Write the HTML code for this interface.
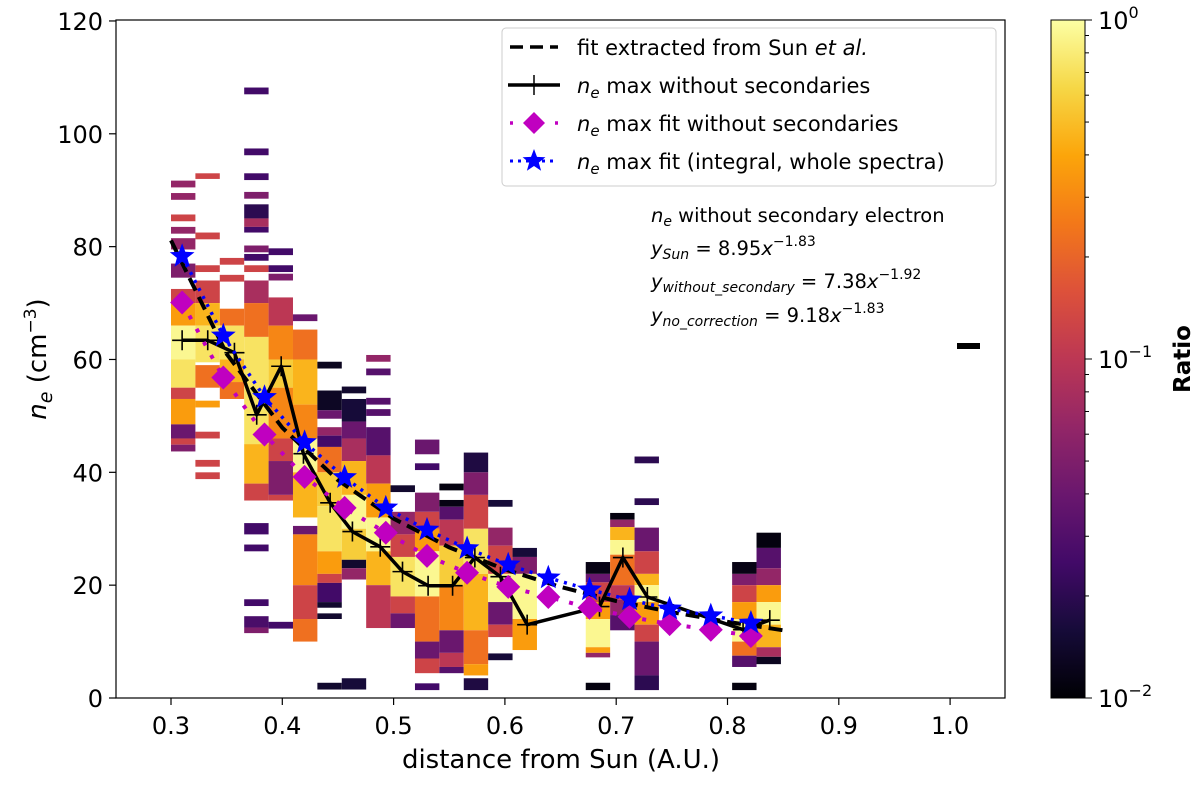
<!DOCTYPE html>
<html><head><meta charset="utf-8"><style>
body{margin:0;background:#fff;}
svg{font-family:"DejaVu Sans","Liberation Sans",sans-serif;}
</style></head><body>
<svg id="chart" width="1200" height="780" viewBox="0 0 1200 780" xmlns="http://www.w3.org/2000/svg">
<defs>
<linearGradient id="cbar" x1="0" y1="1" x2="0" y2="0">
<stop offset="0" stop-color="#000004"/><stop offset="0.1" stop-color="#160b39"/><stop offset="0.2" stop-color="#420a68"/><stop offset="0.3" stop-color="#6a176e"/><stop offset="0.4" stop-color="#932667"/><stop offset="0.5" stop-color="#bc3754"/><stop offset="0.6" stop-color="#dd513a"/><stop offset="0.7" stop-color="#f37819"/><stop offset="0.8" stop-color="#fca50a"/><stop offset="0.9" stop-color="#f6d746"/><stop offset="1" stop-color="#fcffa4"/>
</linearGradient>
<clipPath id="plotclip"><rect x="116" y="20" width="889" height="678"/></clipPath>
</defs>
<g id="heat" clip-path="url(#plotclip)"></g>
<g id="lines" clip-path="url(#plotclip)"></g>
<g id="axes"></g>
<rect x="116" y="20" width="889" height="678" fill="none" stroke="#000" stroke-width="1.2"/>
<g>
<rect x="502" y="28" width="494" height="158" rx="4" fill="#fff" fill-opacity="0.85" stroke="#ccc"/>
<line x1="510" y1="47" x2="558" y2="47" stroke="#000" stroke-width="3.5" stroke-dasharray="13,7"/>
<text x="577" y="55" font-size="21">fit extracted from Sun <tspan font-style="italic">et al.</tspan></text>
<line x1="508" y1="85" x2="560" y2="85" stroke="#000" stroke-width="3.5"/>
<path d="M534 75V95" stroke="#000" stroke-width="1.5"/>
<text x="577" y="93" font-size="21"><tspan font-style="italic">n</tspan><tspan font-style="italic" font-size="15" dy="5">e</tspan><tspan dy="-5"> max without secondaries</tspan></text>
<line x1="510" y1="123" x2="558" y2="123" stroke="#c000c0" stroke-width="3.5" stroke-dasharray="3,12"/>
<path d="M534 112L545 123L534 134L523 123Z" fill="#c000c0"/>
<text x="577" y="131" font-size="21"><tspan font-style="italic">n</tspan><tspan font-style="italic" font-size="15" dy="5">e</tspan><tspan dy="-5"> max fit without secondaries</tspan></text>
<line x1="510" y1="161" x2="558" y2="161" stroke="#0000ff" stroke-width="3" stroke-dasharray="3,5"/>
<path id="legstar" fill="#0000ff"/>
<text x="577" y="169" font-size="21"><tspan font-style="italic">n</tspan><tspan font-style="italic" font-size="15" dy="5">e</tspan><tspan dy="-5"> max fit (integral, whole spectra)</tspan></text>
</g>
<g font-size="19.5">
<text x="651" y="222"><tspan font-style="italic">n</tspan><tspan font-style="italic" font-size="14" dy="4">e</tspan><tspan dy="-4"> without secondary electron</tspan></text>
<text x="651" y="255"><tspan font-style="italic">y</tspan><tspan font-style="italic" font-size="14" dy="4">Sun</tspan><tspan dy="-4"> = 8.95</tspan><tspan font-style="italic">x</tspan><tspan font-size="14" dy="-9">−1.83</tspan></text>
<text x="651" y="288"><tspan font-style="italic">y</tspan><tspan font-style="italic" font-size="14" dy="4">without_secondary</tspan><tspan dy="-4"> = 7.38</tspan><tspan font-style="italic">x</tspan><tspan font-size="14" dy="-9">−1.92</tspan></text>
<text x="651" y="322"><tspan font-style="italic">y</tspan><tspan font-style="italic" font-size="14" dy="4">no_correction</tspan><tspan dy="-4"> = 9.18</tspan><tspan font-style="italic">x</tspan><tspan font-size="14" dy="-9">−1.83</tspan></text>
</g>
<rect x="1051" y="20" width="34" height="678" fill="url(#cbar)" stroke="#000" stroke-width="1"/>
<g id="cbticks"></g>
<text transform="translate(1190,359) rotate(-90)" text-anchor="middle" font-size="23" font-weight="bold">Ratio</text>
<text x="561" y="768" text-anchor="middle" font-size="26">distance from Sun (A.U.)</text>
<text transform="translate(46,359) rotate(-90)" text-anchor="middle" font-size="26"><tspan font-style="italic">n</tspan><tspan font-style="italic" font-size="19" dy="6">e</tspan><tspan dy="-6"> (cm</tspan><tspan font-size="17" dy="-10">−3</tspan><tspan dy="10">)</tspan></text>
</svg>
<script>
const xTicks=[0.3,0.4,0.5,0.6,0.7,0.8,0.9,1.0];
const yTicks=[0,20,40,60,80,100,120];
const colIndex=[0,1,2,3,4,5,6,7,8,9,10,11,12,13,14,17,18,19,23,24];
const colRuns=[
[[90.5,91.7,.4],[88.3,89.5,.4],[84.5,85.7,.55],[82.3,83.5,.4],[79.5,81.5,.4],[74.5,77,.35],[70,72.5,.55],[66,70,.7],[60,66,.9],[55,60,.85],[53,55,.55],[48.5,53,.7],[46,48.5,.3],[44.9,46,.55],[43.7,44.9,.35]],
[[92,93,.55],[81.3,82.5,.55],[75.5,76.7,.55],[70,74,.55],[66,70,.75],[59.5,66,.85],[55,59,.6],[51.5,52.7,.7],[46,47.2,.55],[41,42.2,.55],[38.8,40,.55]],
[[76.8,78,.55],[73.8,75,.55],[66,69,.6],[60,66,.85],[56,60,.75],[53,56,.6]],
[[107,108.2,.2],[96.2,97.4,.2],[91.8,93,.2],[88.5,89.7,.35],[85,87.5,.15],[83.5,85,.45],[82.5,83.5,.2],[79,80.2,.35],[77.5,78.7,.2],[75.5,76.7,.55],[70,74,.45],[64,70,.6],[45,64,.85],[38,45,.75],[35,38,.55],[29,31,.2],[26,27.2,.2],[16.3,17.5,.2],[12.5,14.5,.22],[11.5,12.5,.35]],
[[78.5,79.7,.2],[75.5,76.7,.2],[74,75.2,.35],[66,71,.5],[60,66,.65],[55,60,.8],[46,55,.65],[42,46,.55],[36,42,.35],[35,36,.55],[12.3,13.5,.2]],
[[66.8,68,.3],[60,65.3,.6],[52,60,.75],[46,52,.65],[40,46,.9],[32,40,.75],[29,30.5,.3],[20,29,.65],[14,20,.55],[10,14,.6]],
[[58.4,59.6,.05],[51,54.5,.06],[49.5,51,.3],[46.5,48,.4],[44.5,46.5,.2],[40,44.5,.6],[34,40,.8],[26,34,.85],[22,26,.7],[20.4,22,.55],[17,20.4,.2],[16,17,.08],[14,15,.08],[1.5,2.7,.08]],
[[54,55.2,.08],[49,53,.1],[46,49,.3],[42,46,.45],[36,42,.75],[30,36,.9],[24.5,30,.8],[23,24.5,.08],[21,23,.4],[1.5,3.5,.1]],
[[59.6,60.8,.4],[57.2,58.4,.25],[52,53.2,.25],[50,51.2,.25],[43,48,.25],[38,43,.5],[32,38,.7],[26,32,.9],[20,26,.75],[12.4,20,.5]],
[[36.5,37.7,.08],[29,33,.4],[25,29,.55],[18,25,.85],[15,18,.55],[12.4,15,.3]],
[[43.2,45.8,.3],[40.4,41.6,.2],[33,36.4,.35],[30,33,.55],[26,30,.7],[18,26,.9],[10,18,.6],[7,10,.3],[4.4,7,.55],[1.4,2.6,.2]],
[[36.8,38,.02],[33.9,35.1,.03],[31.6,33.9,.25],[27,31.6,.5],[20,27,.8],[12,20,.65],[8,12,.3],[5.5,8,.5],[4.4,5.5,.25]],
[[40,43.5,.12],[36,40,.35],[30,36,.55],[22,30,.85],[12,22,.75],[6,12,.6],[4,6,.7],[1.4,3.5,.12]],
[[33.9,35.1,.1],[27,30.2,.4],[22,27,.55],[17,22,.9],[13,17,.3],[10.8,13,.55],[6.7,7.9,.1]],
[[25,26.6,.1],[22,25,.35],[14,22,.9],[8.5,14,.7]],
[[22,24.1,.03],[20.5,22,.3],[17,20.5,.55],[14,17,.7],[9,14,.9],[8,9,.7],[7.2,8,.4],[1.4,2.7,.02]],
[[31.6,32.8,.02],[30.3,31.6,.4],[28,30.3,.75],[25.4,28,.9],[20,25.4,.6],[17.4,20,.5],[14.7,17.4,.4],[12,14.7,.25]],
[[41.6,42.8,.15],[34.2,35.4,.15],[26,30.2,.3],[22,26,.55],[20,22,.75],[17,20,.9],[13,17,.7],[10,13,.55],[4,10,.3],[1.4,4,.15]],
[[22,24.1,.03],[20,22,.35],[17,20,.55],[14,17,.7],[10,14,.9],[7.5,10,.6],[5.5,7.5,.25],[1.4,2.7,.02]],
[[26.6,29.3,.02],[23,26.6,.25],[20,23,.4],[17,20,.7],[13,17,.9],[9,13,.75],[7.3,9,.45],[6,7.3,.05]]
];
const sunX=[0.30,0.35,0.40,0.45,0.50,0.55,0.60,0.65,0.70,0.75,0.80,0.85];
const sunY=[81.1,61.0,47.9,38.6,31.8,26.7,22.8,19.7,17.2,15.2,13.5,12.0];
const maxX=[0.310,0.333,0.357,0.377,0.399,0.419,0.443,0.463,0.488,0.508,0.531,0.553,0.573,0.596,0.620,0.685,0.706,0.728,0.814,0.838];
const maxY=[63.4,63.4,61.2,50.2,58.8,43.3,34.6,29.5,26.8,22.4,19.9,19.9,24.9,21.5,13.0,16.2,24.9,17.9,12.1,13.8];
const fitX=[0.310,0.347,0.384,0.420,0.456,0.493,0.530,0.566,0.603,0.639,0.676,0.712,0.748,0.785,0.821];
const fitY=[70.1,56.8,46.7,39.2,33.7,29.3,25.2,22.2,19.7,17.9,16.0,14.4,13.1,12.1,11.0];
const intY=[78.3,64.2,53.3,45.3,39.1,33.7,29.8,26.5,23.6,21.3,19.2,17.4,15.8,14.6,13.3];

const NS="http://www.w3.org/2000/svg";
const X=v=>171+(v-0.3)*1113;
const Y=v=>698-v*5.642;
const colW=0.02192;
const stops=[[0,0,0,4],[.1,22,11,57],[.2,66,10,104],[.3,106,23,110],[.4,147,38,103],[.5,188,55,84],[.6,221,81,58],[.7,243,120,25],[.8,252,165,10],[.9,246,215,70],[1,252,255,164]];
function cmap(t){if(t>=0.6)t=Math.min(1,t+0.08);for(let i=1;i<stops.length;i++){if(t<=stops[i][0]){const a=stops[i-1],b=stops[i],f=(t-a[0])/(b[0]-a[0]);return `rgb(${[1,2,3].map(k=>Math.round(a[k]+(b[k]-a[k])*f)).join(',')})`;}}return 'rgb(252,255,164)';}
function mk(tag,attrs,parent){const e=document.createElementNS(NS,tag);for(const k in attrs)e.setAttribute(k,attrs[k]);parent.appendChild(e);return e;}
const heat=document.getElementById('heat');
colRuns.forEach((runs,ci)=>{const x0=0.3+colIndex[ci]*colW;runs.forEach(r=>{
const c=mk('rect',{x:X(x0),y:Y(r[1]),width:X(x0+colW)-X(x0),height:Y(r[0])-Y(r[1]),fill:cmap(r[2])},heat);


});});
const iso=mk('rect',{x:957,y:343,width:23,height:6,fill:'#000'},heat);


const L=document.getElementById('lines');
function pts(xs,ys){return xs.map((v,i)=>X(v).toFixed(1)+','+Y(ys[i]).toFixed(1)).join(' ');}
const sun=mk('polyline',{points:pts(sunX,sunY),fill:'none',stroke:'#000','stroke-width':4,'stroke-dasharray':'14,7'},L);


const mx=mk('polyline',{points:pts(maxX,maxY),fill:'none',stroke:'#000','stroke-width':3.5,'stroke-linejoin':'round'},L);


maxX.forEach((v,i)=>{const m=mk('path',{d:`M${X(v)-10} ${Y(maxY[i])}h20M${X(v)} ${Y(maxY[i])-10}v20`,stroke:'#000','stroke-width':1.6},L);

});
const ft=mk('polyline',{points:pts(fitX,fitY),fill:'none',stroke:'#c000c0','stroke-width':4,'stroke-dasharray':'4,11'},L);


const it=mk('polyline',{points:pts(fitX,intY),fill:'none',stroke:'#0000ff','stroke-width':3.5,'stroke-dasharray':'3,6'},L);


fitX.forEach((v,i)=>{const cx=X(v),cy=Y(fitY[i]);const d=mk('path',{d:`M${cx} ${cy-12}L${cx+12} ${cy}L${cx} ${cy+12}L${cx-12} ${cy}Z`,fill:'#c000c0'},L);

});
function star(cx,cy,R){let s='';for(let k=0;k<10;k++){const r=k%2?R*0.42:R,a=-Math.PI/2+k*Math.PI/5;s+=(k?'L':'M')+(cx+r*Math.cos(a)).toFixed(1)+' '+(cy+r*Math.sin(a)).toFixed(1);}return s+'Z';}
fitX.forEach((v,i)=>{const s=mk('path',{d:star(X(v),Y(intY[i]),13),fill:'#0000ff'},L);

});
document.getElementById('legstar').setAttribute('d',star(534,161,12));
const A=document.getElementById('axes');
xTicks.forEach(v=>{mk('line',{x1:X(v),x2:X(v),y1:698,y2:705,stroke:'#000','stroke-width':1.2},A);
const t=mk('text',{x:X(v),y:734,'text-anchor':'middle','font-size':24},A);t.textContent=v.toFixed(1);

});
yTicks.forEach(v=>{mk('line',{x1:109,x2:116,y1:Y(v),y2:Y(v),stroke:'#000','stroke-width':1.2},A);
const t=mk('text',{x:103,y:Y(v)+9,'text-anchor':'end','font-size':24},A);t.textContent=v;

});
const CB=document.getElementById('cbticks');
const cbY=e=>698-(e+2)/2*678;
[0,-1,-2].forEach(e=>{mk('line',{x1:1085,x2:1092,y1:cbY(e),y2:cbY(e),stroke:'#000'},CB);
const t=mk('text',{x:1098,y:cbY(e)+9,'font-size':24},CB);t.innerHTML=`10<tspan font-size="16" dy="-11">${e===0?'0':'−'+(-e)}</tspan>`;

});
[-2,-1].forEach(e=>{for(let m=2;m<10;m++){const yy=cbY(e+Math.log10(m));mk('line',{x1:1085,x2:1089,y1:yy,y2:yy,stroke:'#000'},CB);}});
</script>
</body></html>
